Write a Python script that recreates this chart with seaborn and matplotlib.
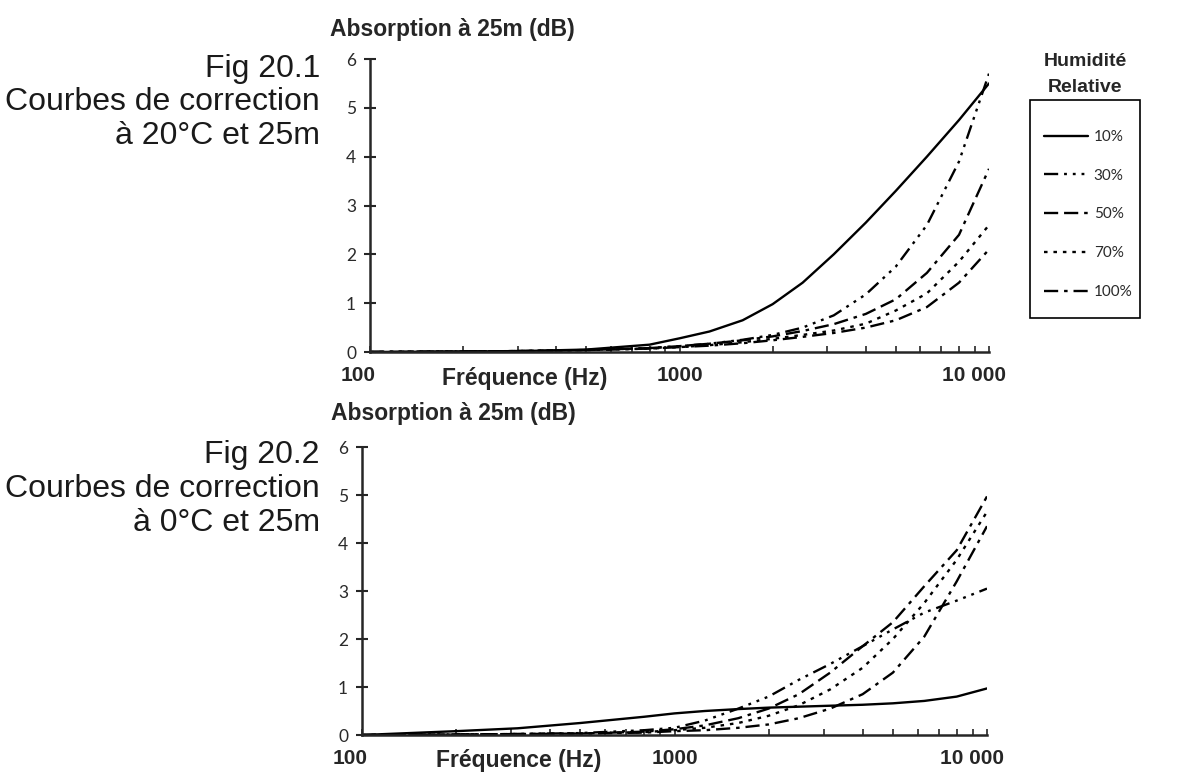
import numpy as np
import pandas as pd
import matplotlib
matplotlib.use("Agg")
import matplotlib.pyplot as plt
import matplotlib.ticker as mticker
import matplotlib.transforms as mtransforms
import seaborn as sns

# frequencies (Hz) used for both figures
freqs = [100, 200, 315, 500, 800, 1000, 1250, 1600, 2000, 2500, 3150, 4000, 5000, 6300, 8000, 10000]
humidity = ["10%", "30%", "50%", "70%", "100%"]

# Fig 20.1 : 20°C, 25 m (dB)
abs20_10 = [0.0, 0.01, 0.02, 0.05, 0.15, 0.28, 0.42, 0.65, 0.98, 1.42, 2.0, 2.65, 3.3, 4.0, 4.75, 5.5]
abs20_30 = [0.0, 0.01, 0.02, 0.04, 0.08, 0.12, 0.17, 0.25, 0.35, 0.5, 0.75, 1.18, 1.75, 2.6, 3.9, 5.7]
abs20_50 = [0.0, 0.01, 0.02, 0.04, 0.08, 0.12, 0.17, 0.24, 0.32, 0.43, 0.57, 0.78, 1.08, 1.62, 2.4, 3.75]
abs20_70 = [0.0, 0.01, 0.02, 0.04, 0.07, 0.1, 0.14, 0.2, 0.27, 0.35, 0.44, 0.58, 0.85, 1.2, 1.85, 2.6]
abs20_100 = [0.0, 0.01, 0.02, 0.04, 0.07, 0.1, 0.13, 0.18, 0.24, 0.31, 0.39, 0.5, 0.65, 0.92, 1.42, 2.1]

# Fig 20.2 : 0°C, 25 m (dB)
abs0_10 = [0.0, 0.08, 0.14, 0.25, 0.38, 0.45, 0.5, 0.54, 0.57, 0.59, 0.61, 0.63, 0.66, 0.71, 0.8, 0.97]
abs0_30 = [0.0, 0.01, 0.02, 0.04, 0.1, 0.15, 0.3, 0.55, 0.8, 1.15, 1.48, 1.85, 2.2, 2.55, 2.8, 3.05]
abs0_50 = [0.0, 0.01, 0.02, 0.03, 0.07, 0.12, 0.2, 0.35, 0.55, 0.85, 1.3, 1.85, 2.35, 3.1, 3.85, 4.97]
abs0_70 = [0.0, 0.01, 0.02, 0.03, 0.06, 0.1, 0.15, 0.25, 0.4, 0.62, 0.95, 1.4, 2.0, 2.75, 3.65, 4.65]
abs0_100 = [0.0, 0.01, 0.02, 0.03, 0.05, 0.08, 0.1, 0.15, 0.22, 0.35, 0.55, 0.85, 1.3, 2.05, 3.2, 4.35]

dashes = {
    "10%": "",
    "30%": (6, 2.5, 1.2, 2.5, 1.2, 2.5, 1.2, 2.5),
    "50%": (6, 2.5, 6, 2.5, 1.5, 2.5),
    "70%": (1.5, 2.5),
    "100%": (6, 2.5, 1.5, 2.5),
}


def make_df(series):
    rows = []
    for h, vals in zip(humidity, series):
        for f, v in zip(freqs, vals):
            rows.append({"freq": f, "absorption": v, "humidite": h})
    return pd.DataFrame(rows)


df20 = make_df([abs20_10, abs20_30, abs20_50, abs20_70, abs20_100])
df0 = make_df([abs0_10, abs0_30, abs0_50, abs0_70, abs0_100])

sns.set_style("ticks")
plt.rcParams["font.family"] = ["Liberation Sans", "DejaVu Sans"]

W, H = 1181, 779
fig = plt.figure(figsize=(W / 100, H / 100), dpi=100)


def px_axes(left, top, right, bottom):
    return fig.add_axes([left / W, 1 - bottom / H, (right - left) / W, (bottom - top) / H])


ax1 = px_axes(370, 59, 989, 352)
ax2 = px_axes(362, 447, 987, 735)

for ax, df in [(ax1, df20), (ax2, df0)]:
    sns.lineplot(data=df, x="freq", y="absorption", style="humidite", style_order=humidity,
                 dashes=dashes, color="black", linewidth=1.7, ax=ax, legend=True)
    ax.set_xscale("log")
    ax.set_xlim(100, 10000)
    ax.set_ylim(0, 6)
    ax.set_yticks(range(0, 7))
    ax.xaxis.set_major_locator(mticker.FixedLocator([100, 1000, 10000]))
    ax.xaxis.set_minor_locator(mticker.LogLocator(base=10, subs=range(2, 10)))
    ax.xaxis.set_minor_formatter(mticker.NullFormatter())
    ax.set_xticklabels(["100", "1000", "10 000"], fontweight="bold", fontsize=15)
    ax.tick_params(axis="x", which="both", direction="in", length=4, width=1.2, pad=10)
    ax.tick_params(axis="y", direction="inout", length=8, width=1.5, pad=6,
                   labelsize=12.5, labelcolor="#2a2a2a")
    for lab in ax.get_yticklabels():
        lab.set_family(["Lato", "DejaVu Sans"])
    # edge tick labels sit slightly left of their ticks, as in the original
    xl = ax.get_xticklabels()
    xl[0].set_transform(xl[0].get_transform() + mtransforms.ScaledTranslation(-0.12, 0, fig.dpi_scale_trans))
    xl[-1].set_transform(xl[-1].get_transform() + mtransforms.ScaledTranslation(-0.15, 0, fig.dpi_scale_trans))
    sns.despine(ax=ax)
    ax.spines["left"].set_linewidth(1.8)
    ax.spines["bottom"].set_linewidth(1.8)
    ax.set_xlabel("Fréquence (Hz)", fontweight="bold", fontsize=16.5)
    ax.xaxis.set_label_coords(0.25, -0.09)
    ax.xaxis.label.set_va("center")
    ax.set_ylabel("Absorption à 25m (dB)", fontweight="bold", fontsize=16.5, rotation=0,
                  ha="left", va="baseline")

handles, labels = ax1.get_legend_handles_labels()
ax1.get_legend().remove()
ax2.get_legend().remove()

ax1.yaxis.set_label_coords(-0.065, 1 + (59 - 36) / 293)
ax2.yaxis.set_label_coords(-0.05, 1 + (447 - 420) / 288)

leg = fig.legend(handles, labels, loc="upper left", bbox_to_anchor=(1044 / W, 1 - 130 / H),
                 borderaxespad=0, frameon=False, handlelength=2.9, labelspacing=1.62,
                 borderpad=0, handletextpad=0.35,
                 prop={"family": ["Lato", "DejaVu Sans"], "size": 11})
for t in leg.get_texts():
    t.set_color("#2a2a2a")
fig.add_artist(plt.Rectangle((1030 / W, 1 - 318 / H), 110 / W, 218 / H, transform=fig.transFigure,
                             fill=False, edgecolor="black", linewidth=1.2))
fig.text(1085 / W, 1 - 62 / H, "Humidité", ha="center", va="center", fontweight="bold", fontsize=14)
fig.text(1085 / W, 1 - 88 / H, "Relative", ha="center", va="center", fontweight="bold", fontsize=14)

captions = [
    (["Fig 20.1", "Courbes de correction", "à 20°C et 25m"], [77, 110, 144]),
    (["Fig 20.2", "Courbes de correction", "à 0°C et 25m"], [463, 497, 531]),
]
for lines, bases in captions:
    for txt, b in zip(lines, bases):
        fig.text(320 / W, 1 - b / H, txt, ha="right", va="baseline", fontsize=23, color="#1a1a1a")

fig.savefig("out.png", dpi=100)
